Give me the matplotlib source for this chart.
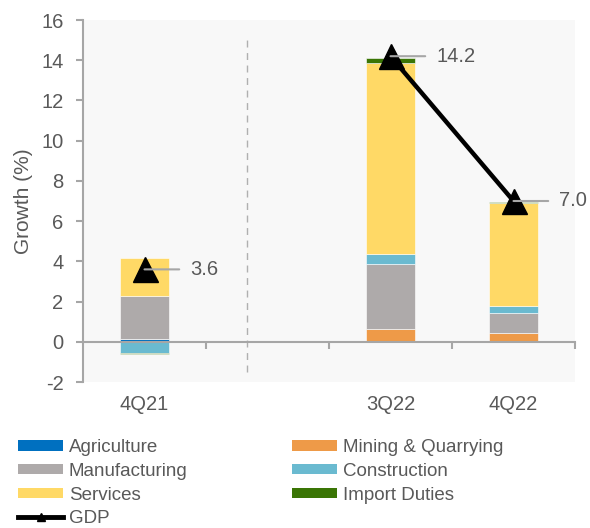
import numpy as np
import matplotlib
matplotlib.use("Agg")
import matplotlib.pyplot as plt
from matplotlib.lines import Line2D
from matplotlib.patches import Patch
import matplotlib.transforms as mtransforms

plt.rcParams['font.family'] = ['Liberation Sans', 'DejaVu Sans']
plt.rcParams['axes.unicode_minus'] = False

# quarterly contributions to growth (percentage points); blank slot separates the years
quarters = ["4Q21", "", "3Q22", "4Q22"]
agriculture = [0.15, 0, 0.05, 0.05]
mining = [0.0, 0, 0.6, 0.38]
manufacturing = [2.15, 0, 3.2, 1.0]
construction = [-0.55, 0, 0.5, 0.33]
services = [1.87, 0, 9.5, 5.15]
import_duties = [-0.07, 0, 0.25, 0.05]
gdp = [3.6, np.nan, 14.2, 7.0]

sectors = [
    ("Agriculture", agriculture, "#0070C0"),
    ("Mining & Quarrying", mining, "#EE9A48"),
    ("Manufacturing", manufacturing, "#AEAAAA"),
    ("Construction", construction, "#6ABAD0"),
    ("Services", services, "#FFD966"),
    ("Import Duties", import_duties, "#3A7505"),
]

text_col = "#595959"
axis_col = "#A6A6A6"

fig = plt.figure(figsize=(5.9, 5.28), dpi=100)
ax = fig.add_axes([83 / 590, 1 - 382 / 528, (575 - 83) / 590, (382 - 20) / 528])
ax.set_facecolor("#F8F8F8")

x = np.arange(len(quarters))
pos_bottom = np.zeros(len(quarters))
neg_bottom = np.zeros(len(quarters))
patches = {}
for name, vals, col in sectors:
    vals = np.array(vals, dtype=float)
    bottom = np.where(vals >= 0, pos_bottom, neg_bottom)
    ax.bar(x, vals, width=0.4, bottom=bottom, color=col,
           edgecolor="white", linewidth=0.4, zorder=2)
    pos_bottom += np.where(vals >= 0, vals, 0)
    neg_bottom += np.where(vals < 0, vals, 0)
    patches[name] = Patch(facecolor=col)

ax.plot(x, gdp, color="black", lw=3.2, marker="^", markersize=18,
        markeredgecolor="black", zorder=4)

for xi, g in zip(x, gdp):
    if np.isnan(g):
        continue
    ax.annotate(f"{g:.1f}", xy=(xi, g), xytext=(33, 0), textcoords="offset points",
                va="center", ha="left", fontsize=14.5, color=text_col,
                arrowprops=dict(arrowstyle="-", color=axis_col, lw=1.5,
                                relpos=(0, 0.5), shrinkA=6, shrinkB=0),
                zorder=5)

# separator between the years
ax.axvline(0.833, ymin=0.028, ymax=0.947, color="#B0B0B0", lw=1,
           ls=(0, (5, 4)), zorder=1)

ax.set_xlim(-0.5, 3.5)
ax.set_ylim(-2, 16)
ax.set_yticks(np.arange(-2, 17, 2))
ax.tick_params(axis="y", direction="out", length=5, width=1.5, color=axis_col,
               labelsize=14.5, labelcolor=text_col, pad=9)

for s in ["top", "right"]:
    ax.spines[s].set_visible(False)
ax.spines["left"].set_color(axis_col)
ax.spines["left"].set_linewidth(1.5)
ax.spines["bottom"].set_position(("data", 0))
ax.spines["bottom"].set_color(axis_col)
ax.spines["bottom"].set_linewidth(1.5)
ax.spines["bottom"].set_zorder(3)

ax.set_xticks([0.5, 1.5, 2.5, 3.5])
ax.set_xticklabels([])
ax.tick_params(axis="x", direction="out", length=5, width=1.5, color=axis_col)

trans = mtransforms.blended_transform_factory(ax.transData, ax.transAxes)
for xi, q in zip(x, quarters):
    ax.text(xi, -0.063, q, transform=trans, ha="center", va="center",
            fontsize=14.5, color=text_col)

ax.set_ylabel("Growth (%)", fontsize=15, color=text_col, labelpad=6)

gdp_handle = Line2D([], [], color="black", lw=3.5, marker="^", markersize=6)
handles = [patches["Agriculture"], patches["Manufacturing"], patches["Services"], gdp_handle,
           patches["Mining & Quarrying"], patches["Construction"], patches["Import Duties"]]
labels = ["Agriculture", "Manufacturing", "Services", "GDP",
          "Mining & Quarrying", "Construction", "Import Duties"]
leg = fig.legend(handles, labels, ncol=2, loc="upper left",
                 bbox_to_anchor=(18 / 590, 1 - 439 / 528), frameon=False,
                 fontsize=13.5, handlelength=2.4, handleheight=0.5,
                 handletextpad=0.3, columnspacing=5.6, labelspacing=0.36,
                 borderpad=0, borderaxespad=0)
for t in leg.get_texts():
    t.set_color(text_col)

fig.savefig("out.png", dpi=100, facecolor="white")
